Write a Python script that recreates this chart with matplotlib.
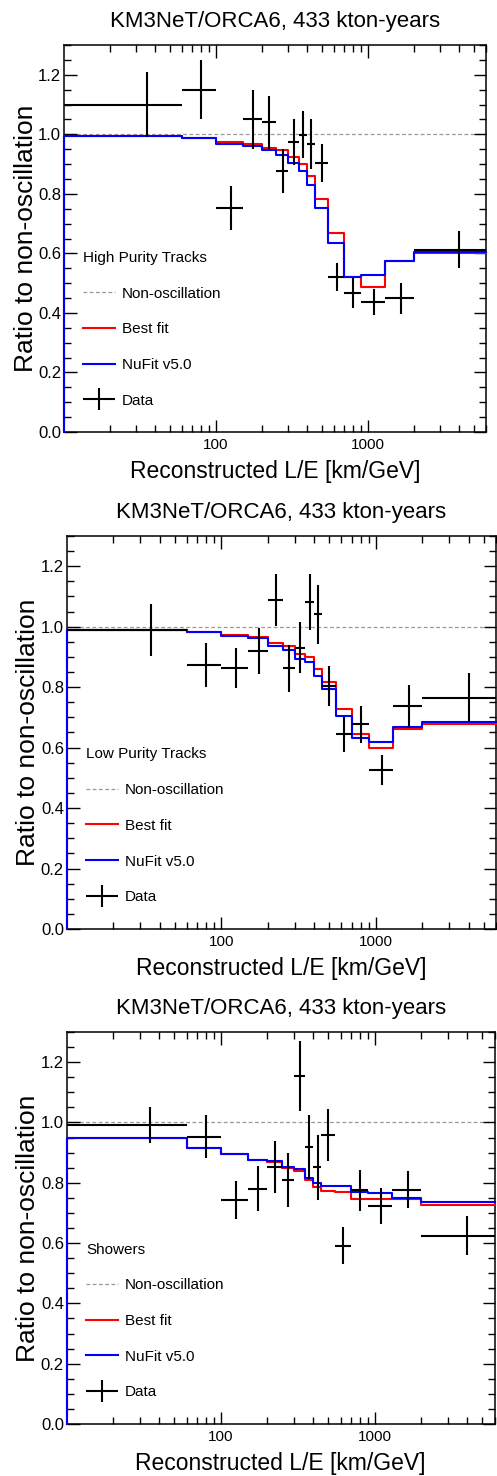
import numpy as np
import matplotlib
matplotlib.use('Agg')
import matplotlib.pyplot as plt
from matplotlib.lines import Line2D
from matplotlib.container import ErrorbarContainer
from matplotlib.legend_handler import HandlerErrorbar
from matplotlib.ticker import LogLocator, NullFormatter, MultipleLocator

plt.rcParams['font.family'] = ['Liberation Sans', 'DejaVu Sans']

# L/E bin edges (km/GeV)
edges = np.array([10, 60, 100, 150, 200, 250, 300, 350, 400, 450, 550, 700, 900, 1300, 2000, 6000])

title = 'KM3NeT/ORCA6, 433 kton-years'
labels = ['Non-oscillation', 'Best fit', 'NuFit v5.0', 'Data']

# High purity tracks
hpt_data = [1.10, 1.15, 0.753, 1.05, 1.04, 0.876, 0.974, 0.999, 0.966, 0.904, 0.521, 0.468, 0.437, 0.449, 0.613]
hpt_err = [0.11, 0.10, 0.075, 0.098, 0.09, 0.074, 0.077, 0.08, 0.084, 0.063, 0.047, 0.05, 0.045, 0.051, 0.061]
hpt_fit = [0.995, 0.988, 0.974, 0.966, 0.954, 0.946, 0.924, 0.899, 0.859, 0.784, 0.669, 0.521, 0.486, 0.575, 0.602]
hpt_nufit = [0.995, 0.988, 0.969, 0.960, 0.949, 0.932, 0.905, 0.877, 0.829, 0.751, 0.635, 0.521, 0.527, 0.575, 0.605]

# Low purity tracks
lpt_data = [0.989, 0.874, 0.864, 0.920, 1.088, 0.862, 0.931, 1.081, 1.041, 0.804, 0.644, 0.677, 0.525, 0.736, 0.765]
lpt_err = [0.087, 0.073, 0.067, 0.075, 0.085, 0.078, 0.083, 0.093, 0.098, 0.066, 0.057, 0.062, 0.05, 0.071, 0.082]
lpt_fit = [0.988, 0.983, 0.972, 0.966, 0.947, 0.936, 0.911, 0.898, 0.861, 0.818, 0.728, 0.645, 0.600, 0.662, 0.677]
lpt_nufit = [0.988, 0.983, 0.970, 0.961, 0.936, 0.922, 0.894, 0.883, 0.837, 0.793, 0.703, 0.632, 0.620, 0.669, 0.684]

# Showers
shw_data = [0.991, 0.953, 0.743, 0.781, 0.853, 0.809, 1.154, 0.919, 0.851, 0.958, 0.592, 0.776, 0.724, 0.777, 0.625]
shw_err = [0.06, 0.072, 0.063, 0.075, 0.087, 0.089, 0.117, 0.105, 0.107, 0.087, 0.062, 0.068, 0.059, 0.062, 0.066]
shw_fit = [0.947, 0.917, 0.897, 0.875, 0.868, 0.848, 0.838, 0.810, 0.785, 0.773, 0.768, 0.747, 0.745, 0.746, 0.725]
shw_nufit = [0.947, 0.917, 0.897, 0.875, 0.873, 0.853, 0.846, 0.815, 0.798, 0.790, 0.790, 0.768, 0.765, 0.750, 0.735]


def hist_line(ax, vals, color, z):
    # ROOT-like histogram outline, rising from 0 at the first edge
    x = np.r_[edges[0], edges]
    y = np.r_[0, vals, vals[-1]]
    ax.step(x, y, where='post', color=color, lw=1.5, zorder=z, clip_on=False)


def panel(ax, name, data, err, fit, nufit):
    centers = (edges[:-1] + edges[1:]) / 2
    xerr = (edges[1:] - edges[:-1]) / 2

    ax.axhline(1.0, color='#999999', ls=(0, (3, 2)), lw=0.9, zorder=1)
    hist_line(ax, fit, 'red', 3)
    hist_line(ax, nufit, 'blue', 4)
    eb = ax.errorbar(centers, data, xerr=xerr, yerr=err, fmt='none', ecolor='black',
                     elinewidth=1.5, capsize=0, zorder=5)

    ax.set_xscale('log')
    ax.set_xlim(10, 6000)
    ax.set_ylim(0, 1.3)
    ax.set_xticks([100, 1000], ['100', '1000'])
    ax.xaxis.set_minor_locator(LogLocator(base=10, subs=np.arange(2, 10)))
    ax.xaxis.set_minor_formatter(NullFormatter())
    ax.yaxis.set_major_locator(MultipleLocator(0.2))
    ax.yaxis.set_minor_locator(MultipleLocator(0.05))
    ax.tick_params(which='both', direction='in', top=True, right=True, width=1)
    ax.tick_params(which='major', length=9)
    ax.tick_params(which='minor', length=5)
    ax.tick_params(axis='x', labelsize=11, pad=4)
    ax.tick_params(axis='y', labelsize=12, pad=2)
    for s in ax.spines.values():
        s.set_linewidth(1.1)

    ax.set_title(title, fontsize=16, pad=13)
    ax.set_xlabel('Reconstructed L/E [km/GeV]', fontsize=16.5, labelpad=6)
    ax.set_ylabel('Ratio to non-oscillation', fontsize=19)
    ax.yaxis.set_label_coords(-0.062, 0.5)

    handles = [Line2D([], [], color='#999999', ls=(0, (3, 2)), lw=0.9),
               Line2D([], [], color='red', lw=1.5),
               Line2D([], [], color='blue', lw=1.5),
               eb]
    ax.legend(handles, labels, title=name, loc='lower left', bbox_to_anchor=(0.045, 0.063),
              frameon=False, fontsize=11, title_fontsize=11, alignment='left',
              handlelength=2.1, handletextpad=0.45, labelspacing=1.42,
              borderpad=0, borderaxespad=0,
              handler_map={ErrorbarContainer: HandlerErrorbar(xerr_size=1.05, yerr_size=0.72)})


fig = plt.figure(figsize=(4.97, 14.76), dpi=100)
ax1 = fig.add_axes([0.1288, 0.7073, 0.849, 0.2622])
ax2 = fig.add_axes([0.1342, 0.3706, 0.8638, 0.2663])
ax3 = fig.add_axes([0.1342, 0.0352, 0.861, 0.2656])

panel(ax1, 'High Purity Tracks', hpt_data, hpt_err, hpt_fit, hpt_nufit)
panel(ax2, 'Low Purity Tracks', lpt_data, lpt_err, lpt_fit, lpt_nufit)
panel(ax3, 'Showers', shw_data, shw_err, shw_fit, shw_nufit)

fig.savefig('out.png', dpi=100)
